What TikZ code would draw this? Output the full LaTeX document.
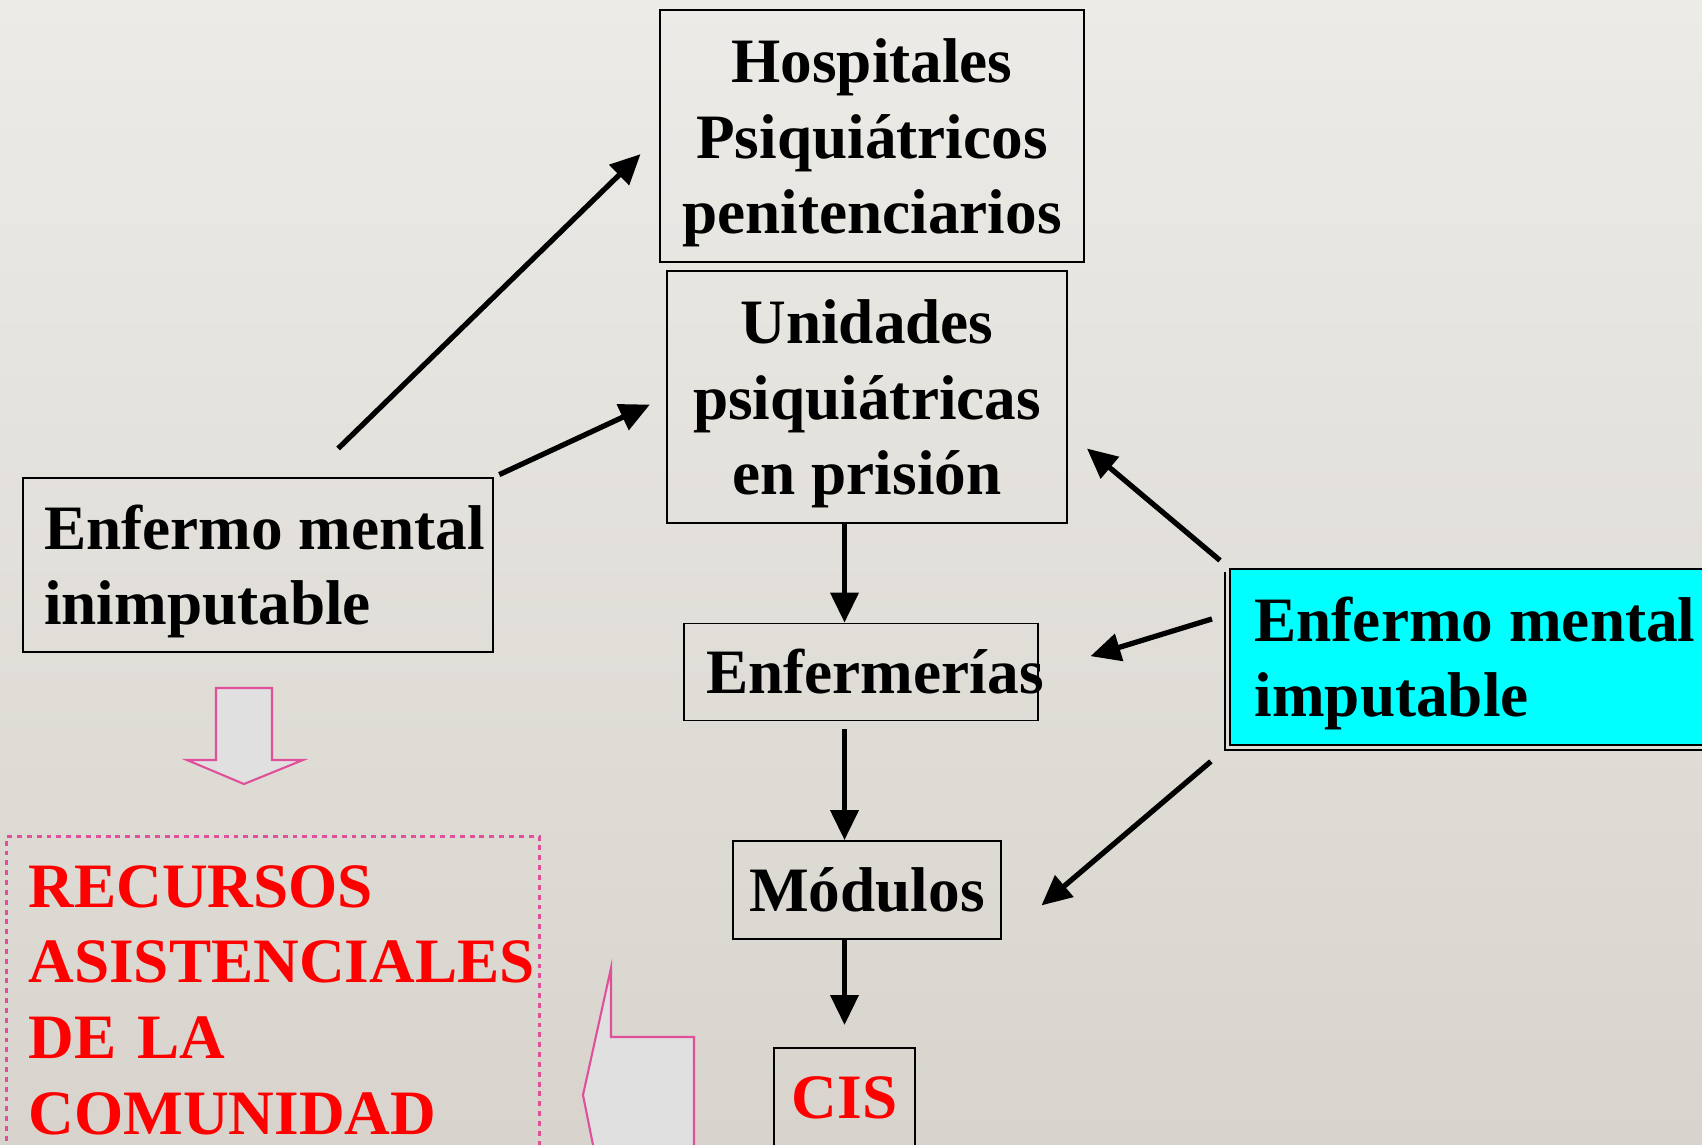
\documentclass[tikz,border=0pt]{standalone}
\usepackage{fontspec}
\setmainfont{Liberation Serif}
\usetikzlibrary{arrows.meta,positioning}

\definecolor{fondoarriba}{HTML}{ECEBE7}
\definecolor{fondoabajo}{HTML}{D8D4CD}
\definecolor{rosa}{HTML}{E0509A}
\definecolor{grisbloque}{HTML}{E0E0E0}
\definecolor{celeste}{HTML}{00FFFF}

\newcommand{\arriba}{\rule{0pt}{1.15cm}}

\tikzset{
    caja/.style={draw=black, line width=1pt, align=center, inner sep=0pt,
        font=\bfseries\fontsize{36}{43}\selectfont},
    flecha/.style={line width=3pt, -{Triangle[length=0.6cm,width=0.55cm]}},
    bloque/.style={draw=rosa, line width=1.2pt, fill=grisbloque},
}

\begin{document}
\begin{tikzpicture}[x=0.02cm, y=-0.02cm]
    \useasboundingbox (0,0) rectangle (1702,1144);
    \clip (0,0) rectangle (1702,1144);
    \shade[top color=fondoarriba, bottom color=fondoabajo] (0,0) rectangle (1702,1144);

    \node[caja, minimum width=8.48cm, minimum height=5.04cm] (hosp) at (872,136) {\arriba Hospitales\\Psiquiátricos\\penitenciarios};
    \node[caja, minimum width=8cm, minimum height=5.04cm] (unid) at (867,397) {\arriba Unidades\\psiquiátricas\\en prisión};
    \node[caja, minimum width=7.08cm, minimum height=1.94cm] (enferm) at (861,672) {\makebox[6cm]{\hspace{0.56cm}Enfermerías}};
    \node[caja, minimum width=5.36cm, minimum height=1.96cm] (modul) at (867,890) {Módulos};
    \node[caja, text=red, minimum width=2.82cm, minimum height=2cm, anchor=north] (cis) at (844.5,1047) {CIS};
    \node[caja, align=left, minimum width=9.4cm, minimum height=3.48cm] (inimp) at (258,565) {\arriba\hspace*{0.26cm}Enfermo mental\\\hspace*{0.26cm}inimputable};
    \node[caja, fill=celeste, align=left, minimum width=9.8cm, minimum height=3.52cm] (imput) at (1475,657) {\arriba Enfermo mental\\imputable};
    \draw[line width=1pt] ([shift={(-4,4)}]imput.north west) -- ([shift={(-4,4)}]imput.south west) -- ([shift={(-4,4)}]imput.south east);

    % recursos de la comunidad
    \node[draw=rosa, line width=1.7pt, dash pattern=on 2.8pt off 2.8pt, text=red, align=left,
        font=\bfseries\fontsize{36}{43}\selectfont, text width=9.78cm, inner xsep=0.44cm, inner ysep=0.58cm,
        anchor=north west] (recur) at (5,835) {RECURSOS\\ASISTENCIALES\\DE LA\\COMUNIDAD};
    \draw[bloque] (216,688) -- (272,688) -- (272,760) -- (303,760) -- (244,784) -- (187,760) -- (216,760) -- cycle;
    \draw[bloque] (611,968) -- (611,1037) -- (694,1037) -- (694,1200) -- (604,1200) -- (583,1095) -- cycle;

    % flechas
    \draw[flecha, shorten <=0.82cm, shorten >=0.52cm] (inimp.60) -- (hosp.west);
    \draw[flecha, shorten <=0.12cm, shorten >=0.36cm] (inimp.north east) -- (unid.west);
    \draw[flecha] (unid.south -| cis.north) -- (enferm.north -| cis.north);
    \draw[flecha, shorten <=0.16cm] (enferm.south -| cis.north) -- (modul.north -| cis.north);
    \draw[flecha, shorten >=0.44cm] (modul.south -| cis.north) -- (cis.north);
    \draw[flecha, shorten <=0.24cm, shorten >=0.5cm] (imput.north west) -- (unid.-10);
    \draw[flecha, shorten <=0.36cm, shorten >=1.08cm] (imput.170) -- (enferm.east);
    \draw[flecha, shorten <=0.48cm, shorten >=1.04cm] (imput.south west) -- (modul.-20);
\end{tikzpicture}
\end{document}
